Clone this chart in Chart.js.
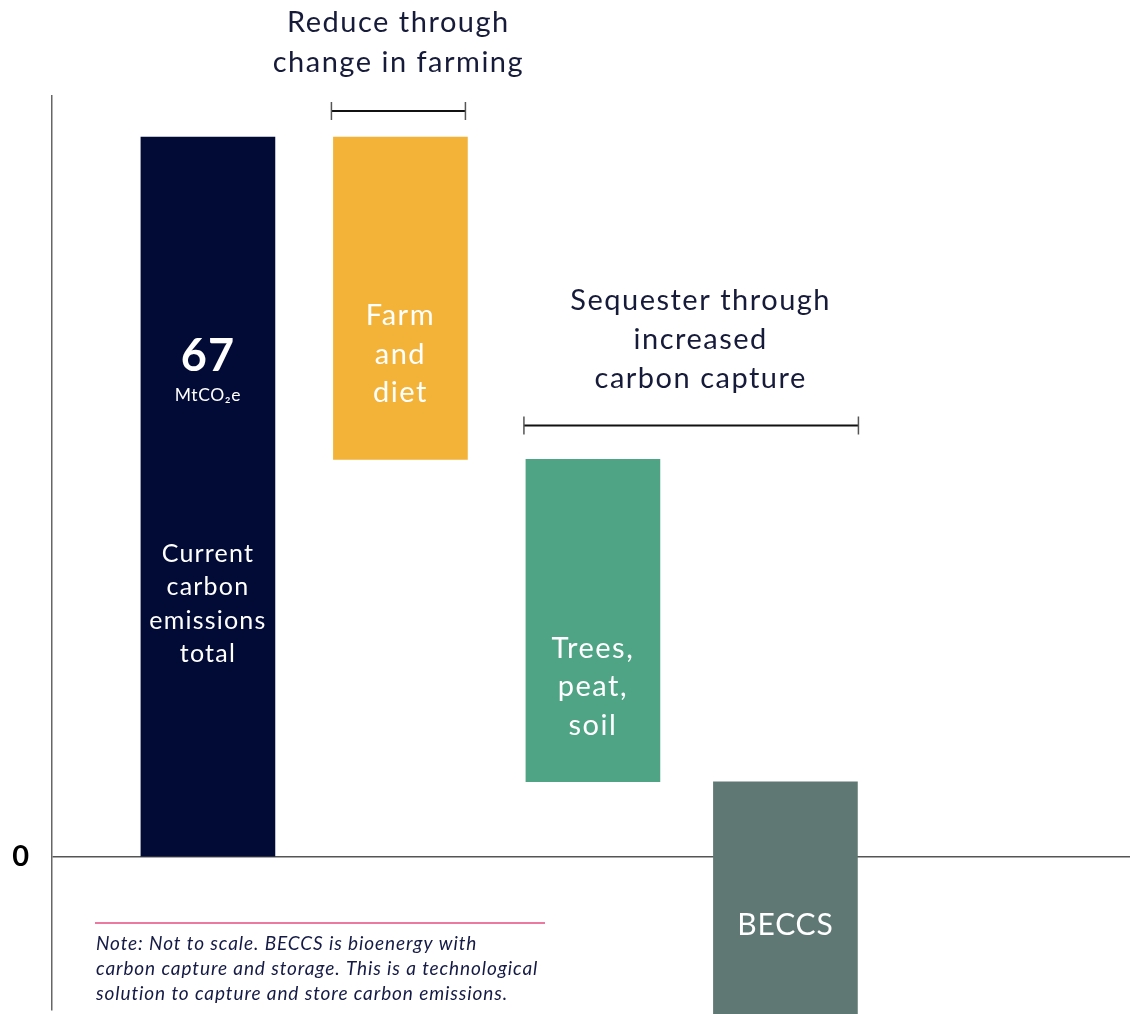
<!DOCTYPE html>
<html>
<head>
<meta charset="utf-8">
<script src="https://cdn.jsdelivr.net/npm/chart.js@4/dist/chart.umd.min.js"></script>
<style>
  html, body { margin: 0; padding: 0; background: #ffffff; }
  #wrap { width: 1130px; height: 1014px; }
</style>
</head>
<body>
<div id="wrap"><canvas id="c" width="1130" height="1014"></canvas></div>
<script>
// ---- Data ----
const categories = ['Current carbon emissions total', 'Farm and diet', 'Trees, peat, soil', 'BECCS'];
const categoryIndex = [1, 2, 3, 4];
const barStarts = [0, 37, 7, -15];
const barEnds = [67, 67, 37, 7];
const barColors = ['#010b35', '#f3b238', '#4fa485', '#5f7873'];
const barLabelLines = [
  ['Current', 'carbon', 'emissions', 'total'],
  ['Farm', 'and', 'diet'],
  ['Trees,', 'peat,', 'soil'],
  ['BECCS']
];
const totalValueLabel = '67';
const totalUnitLabel = 'MtCO\u2082e';
const yTickValues = [0];
const groupTitles = [
  ['Reduce through', 'change in farming'],
  ['Sequester through', 'increased', 'carbon capture']
];
const noteLines = [
  'Note: Not to scale. BECCS is bioenergy with',
  'carbon capture and storage. This is a technological',
  'solution to capture and store carbon emissions.'
];

const FONT = 'Lato, "Noto Sans", sans-serif';
const TEXT_DARK = '#171b3a';

function pts(idxList) {
  return idxList.map(i => ({ x: categoryIndex[i], y: [barStarts[i], barEnds[i]] }));
}

const annotPlugin = {
  id: 'annot',
  afterDatasetsDraw(chart) {
    const ctx = chart.ctx;
    const m0 = chart.getDatasetMeta(0).data;
    const m1 = chart.getDatasetMeta(1).data;
    const bars = [m0[0], m0[1], m0[2], m1[0]];
    const info = bars.map(b => {
      const p = b.getProps(['x', 'y', 'base', 'width'], true);
      return { cx: p.x, top: Math.min(p.y, p.base), bottom: Math.max(p.y, p.base), left: p.x - p.width / 2, right: p.x + p.width / 2 };
    });
    ctx.save();
    ctx.textAlign = 'center';
    ctx.textBaseline = 'middle';
    ctx.fillStyle = '#ffffff';

    // Bar 1: total value
    const b1 = info[0];
    ctx.letterSpacing = '1px';
    ctx.font = 'bold 45px ' + FONT;
    ctx.fillText(totalValueLabel, b1.cx, b1.top + 219);
    ctx.letterSpacing = '0.6px';
    ctx.font = '17.5px ' + FONT;
    ctx.fillText(totalUnitLabel, b1.cx, b1.top + 258);
    ctx.letterSpacing = '1.2px';
    ctx.font = '25px ' + FONT;
    barLabelLines[0].forEach((t, k) => ctx.fillText(t, b1.cx, b1.top + 417 + k * 33.3));

    // Bar 2
    const b2 = info[1];
    ctx.letterSpacing = '1.5px';
    ctx.font = '29px ' + FONT;
    barLabelLines[1].forEach((t, k) => ctx.fillText(t, b2.cx, b2.top + 179 + k * 38.5));

    // Bar 3
    const b3 = info[2];
    barLabelLines[2].forEach((t, k) => ctx.fillText(t, b3.cx, b3.top + 189 + k * 38.5));

    // Bar 4
    const b4 = info[3];
    ctx.letterSpacing = '0.8px';
    ctx.font = '30px ' + FONT;
    ctx.fillText(barLabelLines[3][0], b4.cx, b4.top + 144);

    // Brackets
    function bracket(x1, x2, y) {
      ctx.strokeStyle = '#111111';
      ctx.lineWidth = 2;
      ctx.beginPath(); ctx.moveTo(x1, y); ctx.lineTo(x2, y); ctx.stroke();
      ctx.strokeStyle = '#555555';
      ctx.lineWidth = 1.5;
      ctx.beginPath();
      ctx.moveTo(x1, y - 9); ctx.lineTo(x1, y + 9);
      ctx.moveTo(x2, y - 9); ctx.lineTo(x2, y + 9);
      ctx.stroke();
    }
    bracket(b2.left - 2, b2.right - 2, b2.top - 26);
    bracket(b3.left - 2, b4.right + 1, b3.top - 34);

    // Group titles
    ctx.fillStyle = TEXT_DARK;
    ctx.letterSpacing = '1.5px';
    ctx.font = '29px ' + FONT;
    groupTitles[0].forEach((t, k) => ctx.fillText(t, b2.cx - 2, 23 + k * 39.5));
    const c2 = (b3.left + b4.right) / 2 + 9;
    groupTitles[1].forEach((t, k) => ctx.fillText(t, c2, b3.top - 159 + k * 39));

    // Note
    ctx.strokeStyle = '#ec7aa0';
    ctx.lineWidth = 2;
    ctx.beginPath(); ctx.moveTo(95, 923); ctx.lineTo(545, 923); ctx.stroke();
    ctx.textAlign = 'left';
    ctx.fillStyle = '#141a45';
    ctx.letterSpacing = '0.9px';
    ctx.font = 'italic 19px ' + FONT;
    noteLines.forEach((t, k) => ctx.fillText(t, 96, 944 + k * 25));
    ctx.restore();
  }
};

new Chart(document.getElementById('c'), {
  type: 'bar',
  data: {
    datasets: [
      {
        label: 'Main',
        data: pts([0, 1, 2]),
        backgroundColor: [barColors[0], barColors[1], barColors[2]],
        barThickness: 134,
        borderWidth: 0
      },
      {
        label: 'BECCS',
        data: pts([3]),
        backgroundColor: [barColors[3]],
        barThickness: 144,
        borderWidth: 0,
        clip: false
      }
    ]
  },
  options: {
    responsive: false,
    animation: false,
    grouped: false,
    layout: { padding: { top: 96, bottom: 4, left: 0, right: 0 } },
    plugins: { legend: { display: false }, tooltip: { enabled: false }, title: { display: false } },
    scales: {
      x: {
        type: 'linear',
        min: 0.19,
        max: 5.79,
        offset: false,
        display: false
      },
      y: {
        min: -14.24,
        max: 70.82,
        afterFit(s) { s.width = 52; s.paddingTop = 0; s.paddingBottom = 0; },
        afterBuildTicks(s) { s.ticks = yTickValues.map(v => ({ value: v })); },
        grid: { color: '#555555', lineWidth: 1.5, drawTicks: false, tickLength: 0 },
        border: { display: true, color: '#666666', width: 1.5 },
        ticks: {
          color: '#000000',
          padding: 23,
          font: { family: FONT, size: 29, weight: 'bold' },
          callback: v => String(v)
        }
      }
    }
  },
  plugins: [annotPlugin]
});
</script>
</body>
</html>
